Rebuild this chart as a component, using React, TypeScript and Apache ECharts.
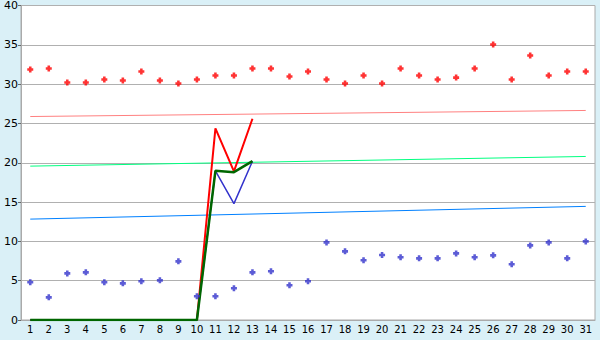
import React, { useEffect, useRef } from "react";
import * as echarts from "echarts";

const days = Array.from({ length: 31 }, (_, i) => String(i + 1));

const redPoints = [31.85, 31.98, 30.2, 30.2, 30.58, 30.45, 31.6, 30.45, 30.07, 30.58,
  31.09, 31.09, 31.98, 31.98, 30.96, 31.6, 30.58, 30.07, 31.09, 30.07,
  31.98, 31.09, 30.58, 30.83, 31.98, 35.03, 30.58, 33.63, 31.09, 31.6, 31.6];

const bluePoints = [4.79, 2.88, 5.93, 6.06, 4.79, 4.66, 4.92, 5.04, 7.46, 3.01,
  3.01, 4.03, 6.06, 6.19, 4.41, 4.92, 9.87, 8.73, 7.59, 8.26,
  7.97, 7.84, 7.84, 8.47, 7.97, 8.22, 7.08, 9.49, 9.87, 7.84, 10.0];

const redLine = [0, 0, 0, 0, 0, 0, 0, 0, 0, 0, 24.36, 18.9, 25.6];
const blueLine = [0, 0, 0, 0, 0, 0, 0, 0, 0, 0, 18.97, 14.8, 20.2];
const greenLine = [0, 0, 0, 0, 0, 0, 0, 0, 0, 0, 18.97, 18.8, 20.2];

// trend lines: [start value at day 1, end value at day 31]
const redTrend = [25.88, 26.65];
const greenTrend = [19.57, 20.8];
const blueTrend = [12.83, 14.45];

const plusSymbol = "path://M2,0H5V2H7V5H5V7H2V5H0V2H2Z";

export default function App() {
  const ref = useRef<HTMLDivElement>(null);
  useEffect(() => {
    if (!ref.current) return;
    const chart = echarts.init(ref.current, null, { renderer: "svg" });
    const trend = (vals: number[], color: string) => ({
      type: "line",
      data: [[0, vals[0]], [days.length - 1, vals[1]]],
      symbol: "none",
      lineStyle: { color, width: 1 },
      z: 3,
    });
    const main = (vals: number[], color: string, width: number, z: number) => ({
      type: "line",
      data: vals,
      symbol: "none",
      lineStyle: { color, width },
      z,
    });
    chart.setOption({
      animation: false,
      backgroundColor: "#daf0f7",
      grid: {
        left: 21, right: 5, top: 5, bottom: 20,
        show: true, backgroundColor: "#ffffff", borderColor: "#aaaaaa", borderWidth: 1,
      },
      xAxis: {
        type: "category",
        data: days,
        boundaryGap: true,
        axisLine: { lineStyle: { color: "#aaaaaa" } },
        axisTick: { alignWithLabel: true, length: 4, lineStyle: { color: "#666666" } },
        axisLabel: { color: "#000", fontFamily: "DejaVu Sans", fontSize: 10, margin: 4, interval: 0 },
        splitLine: { show: false },
      },
      yAxis: {
        type: "value",
        min: 0, max: 40, interval: 5,
        axisLine: { show: true, lineStyle: { color: "#aaaaaa" } },
        axisTick: { show: true, length: 3, lineStyle: { color: "#666666" } },
        axisLabel: { color: "#000", fontFamily: "DejaVu Sans", fontSize: 11, margin: 3 },
        splitLine: { lineStyle: { color: "#b0b0b0", width: 1 } },
      },
      series: [
        {
          type: "scatter", data: redPoints, symbol: plusSymbol, symbolSize: 6,
          itemStyle: { color: "#ff0000" }, z: 5,
        },
        {
          type: "scatter", data: bluePoints, symbol: plusSymbol, symbolSize: 6,
          itemStyle: { color: "#3333cc" }, z: 5,
        },
        trend(redTrend, "#ff8080"),
        trend(greenTrend, "#00ff80"),
        trend(blueTrend, "#0080ff"),
        main(redLine, "#ff0000", 2, 4),
        main(blueLine, "#3333cc", 1.5, 4),
        main(greenLine, "#006600", 2.5, 4),
      ],
    });
    return () => chart.dispose();
  }, []);
  return <div ref={ref} style={{ width: 600, height: 340, position: "absolute", left: 0, top: 0 }} />;
}
